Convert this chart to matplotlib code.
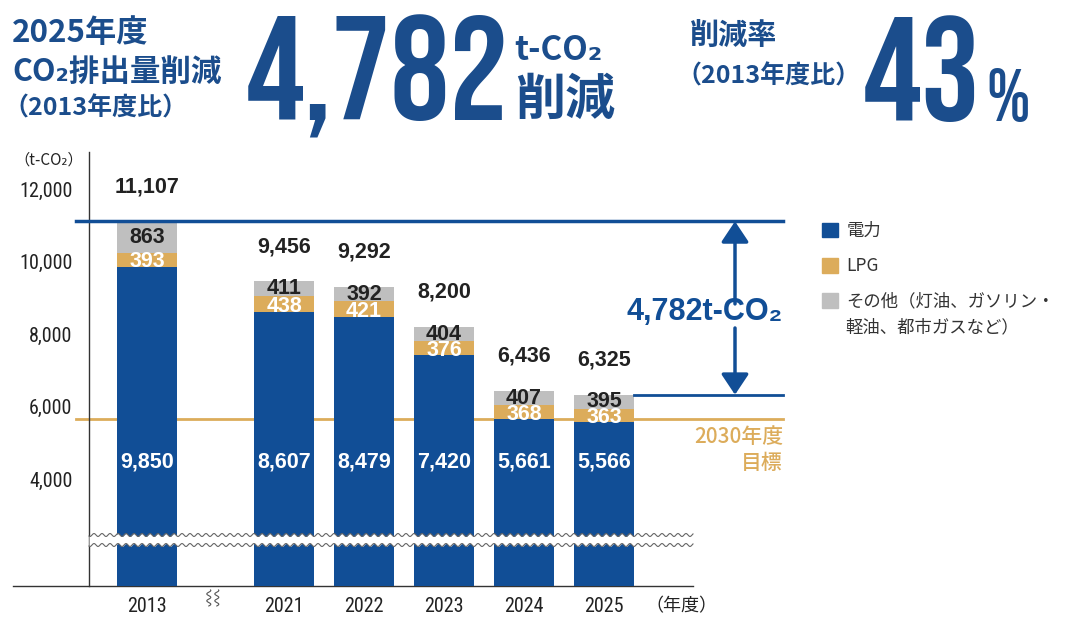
import matplotlib.pyplot as plt
import numpy as np
from matplotlib.patches import Patch

# data
years = ['2013', '2021', '2022', '2023', '2024', '2025']
electric = [9850, 8607, 8479, 7420, 5661, 5566]
lpg = [393, 438, 421, 376, 368, 363]
other = [863, 411, 392, 404, 407, 395]
totals = [11107, 9456, 9292, 8200, 6436, 6325]
target_2030 = 5650
reduction = 4782
reduction_rate = 43
yticks = [4000, 6000, 8000, 10000, 12000]

BLUE = '#114e96'
TBLUE = '#1b4d8c'
ORANGE = '#dcac5b'
GRAY = '#bfbfbf'
INK = '#222222'
JP = ['Noto Sans CJK JP', 'DejaVu Sans']
NARROW = ['Roboto Condensed', 'DejaVu Sans']
BIG = ['Bebas Neue', 'DejaVu Sans']
NUM = ['Liberation Sans', 'DejaVu Sans']

plt.rcParams['font.family'] = JP

W, H = 1067, 627
fig = plt.figure(figsize=(W / 100, H / 100), dpi=100)
ax = fig.add_axes([13 / W, 1 - 586 / H, 770 / W, 434 / H])

def px(x, y):
    return x / W, 1 - y / H

# bar positions: gap between 2013 and 2021
x = np.array([-1.7125, 0, 1, 2, 3, 4])
w = 0.76
xmin, xmax = -3.3875, 6.2375
yaxis_x = -2.4375
plot_right = 5.1125

e = np.array(electric)
l = np.array(lpg)
o = np.array(other)
ax.bar(x, e, w, color=BLUE, zorder=3)
ax.bar(x, l, w, bottom=e, color=ORANGE, zorder=3)
ax.bar(x, o, w, bottom=e + l, color=GRAY, zorder=3)

ax.set_xlim(xmin, xmax)
ax.set_ylim(1048, 13021)

for s in ['top', 'right']:
    ax.spines[s].set_visible(False)
ax.spines['left'].set_position(('data', yaxis_x))
ax.spines['bottom'].set_bounds(xmin, plot_right)
for s in ['left', 'bottom']:
    ax.spines[s].set_color('#333333')
    ax.spines[s].set_linewidth(1)

ax.set_yticks(yticks, [f'{v:,}' for v in yticks])
ax.set_xticks(x, years)
ax.tick_params(axis='y', length=0, pad=12)
ax.tick_params(axis='x', length=0, pad=8)
for lbl in ax.get_xticklabels() + ax.get_yticklabels():
    lbl.set_fontfamily(NARROW)
    lbl.set_fontsize(14.5)
    lbl.set_color(INK)

# reference lines
ax.plot([-2.6, xmax], [totals[0]] * 2, color=BLUE, lw=2.5, zorder=4, clip_on=False)
ax.plot([-2.6, xmax], [target_2030] * 2, color=ORANGE, lw=2, zorder=2, clip_on=False)
ax.plot([x[-1] + w / 2, xmax], [totals[-1]] * 2, color=BLUE, lw=2, zorder=4, clip_on=False)

# broken axis waves
xs = np.linspace(yaxis_x, plot_right, 800)
wave = 41 * np.sin(2 * np.pi * xs / 0.1)
ax.fill_between(xs, 2179 + wave, 2455 + wave, color='white', zorder=5, lw=0)
ax.plot(xs, 2455 + wave, color='#666666', lw=0.8, zorder=6)
ax.plot(xs, 2179 + wave, color='#666666', lw=0.8, zorder=6)

# break mark on the x axis
ys = np.linspace(497, 938, 60)
for xc in [-0.94, -0.84]:
    ax.plot(xc + 0.025 * np.sin(2 * np.pi * (ys - 497) / 190), ys,
            color='#555555', lw=0.8, clip_on=False)

# value labels
lab = dict(ha='center', va='center', fontsize=15.5, fontweight='bold', family=NUM, zorder=7)
for i in range(len(years)):
    ax.annotate(f'{totals[i]:,}', (x[i], totals[i]), xytext=(0, 25),
                textcoords='offset points', color=INK, **lab)
    ax.text(x[i], e[i] + l[i] + o[i] / 2, f'{other[i]}', color=INK, **lab)
    ax.text(x[i], e[i] + l[i] / 2 - 60, f'{lpg[i]}', color='white', **lab)
    ax.text(x[i], 4470, f'{electric[i]:,}', color='white', **lab)

# reduction arrow
ax_x = 5.6375
arrow = dict(arrowstyle='-|>,head_width=0.6,head_length=0.9', color=BLUE,
             lw=2.5, shrinkA=0, shrinkB=0, mutation_scale=14)
ax.annotate('', xy=(ax_x, totals[0]), xytext=(ax_x, 8830), arrowprops=arrow,
            annotation_clip=False)
ax.annotate('', xy=(ax_x, totals[-1]), xytext=(ax_x, 8166), arrowprops=arrow,
            annotation_clip=False)
ax.text(xmax, 8607, f'{reduction:,}t-CO₂', ha='right', va='center', fontsize=22,
        fontweight='bold', color=BLUE, family=NUM)

ax.text(xmax, 5159, '2030年度', ha='right', va='center', fontsize=15,
        fontweight='medium', color=ORANGE)
ax.text(xmax, 4441, '目標', ha='right', va='center', fontsize=15,
        fontweight='medium', color=ORANGE)

# legend
handles = [Patch(color=BLUE), Patch(color=ORANGE), Patch(color=GRAY)]
labels = ['電力', 'LPG', 'その他（灯油、ガソリン・']
leg = fig.legend(handles, labels, loc='upper left', bbox_to_anchor=px(815, 215),
                 frameon=False, fontsize=12.5, handlelength=0.9, handleheight=0.9,
                 handletextpad=0.5, labelspacing=1.0, borderaxespad=0)
for t in leg.get_texts():
    t.set_color('#333333')
fig.text(*px(845, 327), '軽油、都市ガスなど）', ha='left', va='center', fontsize=12.5,
         color='#333333')

# axis unit labels
fig.text(*px(14, 160), '（t-CO₂）', ha='left', va='center', fontsize=11, color=INK)
fig.text(*px(645, 606), '（年度）', ha='left', va='center', fontsize=13, color=INK)

# headline
fig.text(*px(12, 33), '2025年度', ha='left', va='center', fontsize=22.5,
         fontweight='bold', color=TBLUE)
fig.text(*px(12, 72), 'CO₂排出量削減', ha='left', va='center', fontsize=22,
         fontweight='bold', color=TBLUE)
fig.text(*px(3, 108), '（2013年度比）', ha='left', va='center', fontsize=18,
         fontweight='bold', color=TBLUE)
fig.text(*px(246, 121), f'{reduction:,}', ha='left', va='baseline', fontsize=106,
         color=TBLUE, family=BIG)
fig.text(*px(514, 50), 't-CO₂', ha='left', va='center', fontsize=24,
         fontweight='bold', color=TBLUE)
fig.text(*px(515, 100), '削減', ha='left', va='center', fontsize=36,
         fontweight='bold', color=TBLUE)
fig.text(*px(690, 35), '削減率', ha='left', va='center', fontsize=21,
         fontweight='bold', color=TBLUE)
fig.text(*px(676, 76), '（2013年度比）', ha='left', va='center', fontsize=18,
         fontweight='bold', color=TBLUE)
fig.text(*px(863, 121), f'{reduction_rate}', ha='left', va='baseline', fontsize=106,
         color=TBLUE, family=BIG)
fig.text(*px(986, 121), '%', ha='left', va='baseline', fontsize=53,
         color=TBLUE, family=BIG)

fig.savefig('out.png', dpi=100)
